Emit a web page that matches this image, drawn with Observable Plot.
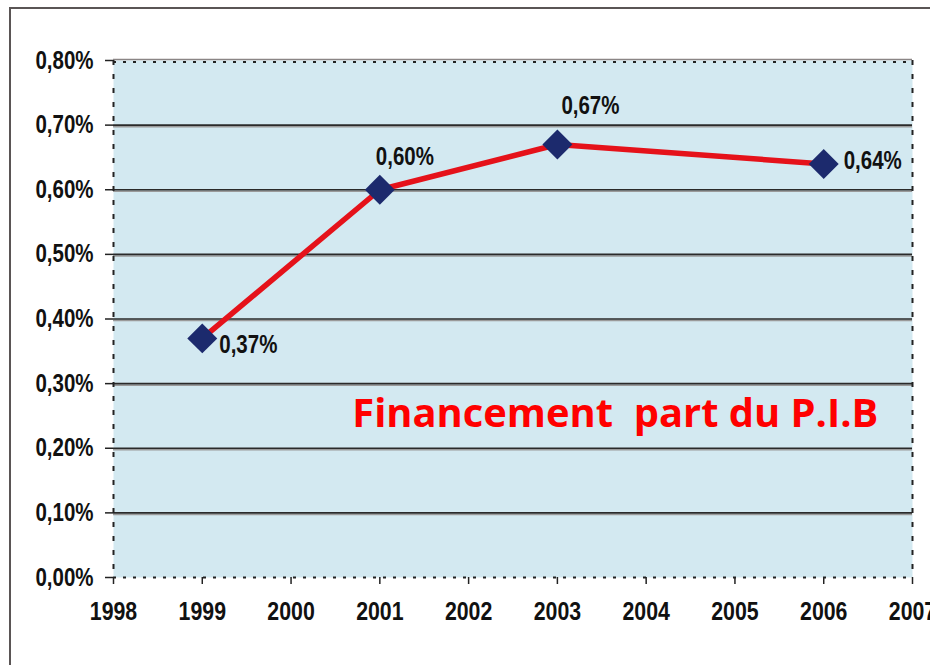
<!DOCTYPE html>
<html><head><meta charset="utf-8">
<script src="https://cdn.jsdelivr.net/npm/d3@7"></script>
<script src="https://cdn.jsdelivr.net/npm/@observablehq/plot@0.6"></script>
<style>
html,body{margin:0;padding:0;background:#fff;}
#wrap{position:relative;width:930px;height:665px;overflow:hidden;}
#frame{position:absolute;left:9px;top:7px;width:960px;height:720px;border-left:2.5px solid #5a5555;border-top:2.5px solid #5a5555;pointer-events:none;}
#wrap svg{position:absolute;left:0;top:0;}
svg text{white-space:pre;}
</style></head><body><div id="wrap"><div id="frame"></div></div>
<script>
const years = [1999, 2001, 2003, 2006];
const values = [0.37, 0.60, 0.67, 0.64];
const pointLabels = ["0,37%", "0,60%", "0,67%", "0,64%"];
const xTicks = [1998, 1999, 2000, 2001, 2002, 2003, 2004, 2005, 2006, 2007];
const yTicks = [0, 0.1, 0.2, 0.3, 0.4, 0.5, 0.6, 0.7, 0.8];
const gridValues = [0.1, 0.2, 0.3, 0.4, 0.5, 0.6, 0.7];
const title = "Financement  part du P.I.B";

const rows = years.map((y, i) => ({year: y, value: values[i], label: pointLabels[i], i}));
const labelFont = "'Liberation Sans',Arial,sans-serif";

function pointLabel(i, dx, dy) {
  return Plot.text(rows.filter(d => d.i === i), {
    x: "year", y: "value", text: "label", dx, dy,
    textAnchor: "start", lineAnchor: "middle",
    fontSize: 25, fontWeight: "bold", fill: "#111", fontFamily: labelFont, className: "narrow"
  });
}

const chart = Plot.plot({
  width: 930, height: 665,
  marginLeft: 113, marginRight: 18, marginTop: 60, marginBottom: 88,
  x: {domain: [1998, 2007]},
  y: {domain: [0, 0.8]},
  style: {background: "transparent", fontFamily: labelFont, color: "#111", overflow: "visible"},
  marks: [
    Plot.frame({fill: "#d3e9f1", stroke: null}),
    Plot.ruleY(gridValues, {stroke: "#9a9a9a", strokeWidth: 1.5, dy: 1.5}),
    Plot.ruleY(gridValues, {stroke: "#2a2a2a", strokeWidth: 1.7}),
    Plot.ruleY([0.8], {stroke: "#8a8585", strokeWidth: 1.5, dy: -1}),
    Plot.ruleY([0.8], {stroke: "#222", strokeWidth: 2, strokeDasharray: "3,7", dy: 1.5}),
    Plot.ruleX([1998, 2007], {stroke: "#222", strokeWidth: 2, strokeDasharray: "5,9"}),
    Plot.ruleY([0], {stroke: "#222", strokeWidth: 2, strokeDasharray: "3,7"}),
    Plot.axisY({ticks: yTicks, tickSize: 8, tickPadding: 12, tickFormat: d => d.toFixed(2).replace(".", ",") + "%",
      fontSize: 25, fontWeight: "bold", label: null, stroke: "#222", strokeWidth: 1.5, className: "narrow"}),
    Plot.axisX({ticks: xTicks, tickSize: 7, tickPadding: 17, tickFormat: d => String(d),
      fontSize: 26, fontWeight: "bold", label: null, stroke: "#222", strokeWidth: 1.5, className: "narrow"}),
    Plot.line(rows, {x: "year", y: "value", stroke: "#e5121a", strokeWidth: 5.5}),
    Plot.dot(rows, {x: "year", y: "value", symbol: "diamond2", r: 13.5, fill: "#1c2a6d", stroke: null}),
    pointLabel(0, 17, 7),
    pointLabel(1, -4, -33),
    pointLabel(2, 4, -39),
    pointLabel(3, 20, -3),
    Plot.text([title], {x: () => 2000.69, y: () => 0.252, text: d => d, textAnchor: "start", lineAnchor: "middle",
      fontSize: 40, fontWeight: "bold", fill: "#ff0000", fontFamily: "'Open Sans',Lato,sans-serif", className: "ttl"})
  ]
});
document.getElementById("wrap").prepend(chart);
chart.querySelectorAll(".narrow text").forEach(el => {
  const w = el.getComputedTextLength();
  el.setAttribute("textLength", (w * 0.82).toFixed(1));
  el.setAttribute("lengthAdjust", "spacingAndGlyphs");
});
const t = chart.querySelector(".ttl text");
if (t) { t.setAttribute("textLength", "526"); t.setAttribute("lengthAdjust", "spacingAndGlyphs"); }
</script>
</body></html>
